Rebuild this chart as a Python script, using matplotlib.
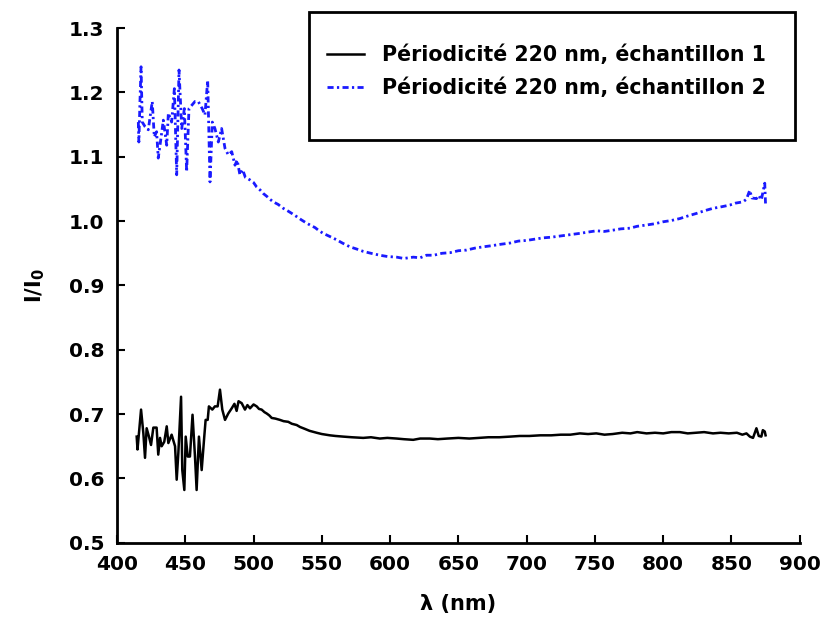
import matplotlib
matplotlib.use("Agg")
import matplotlib.pyplot as plt
from matplotlib.patches import Rectangle

plt.rcParams['font.family'] = ['DejaVu Sans']
plt.rcParams['font.weight'] = 'bold'
plt.rcParams['axes.labelweight'] = 'bold'

# échantillon 1 (courbe noire)
lam1 = [414.4, 415, 417.6, 419.3, 420.5, 421.7, 423.4, 424.9, 426.6, 429, 430.2, 431.5, 432.7,
        434.6, 436.4, 437.6, 440, 442.5, 443.7, 444.9, 446.9, 447.8, 449.3, 450.3, 451.8, 453.4,
        455.3, 457.1, 458.3, 460, 462, 463.9, 464.9, 466.4, 467.3, 469.8, 471.7, 473.7, 475.4,
        477.1, 479.1, 481.5, 484, 486, 487.6, 489, 491.3, 493.7, 495.5, 497.4, 500, 502.3, 504,
        505.9, 508, 509.6, 511.5, 513.3, 516, 519.3, 522, 525.4, 528, 531.6, 534, 537.6, 541,
        546.2, 550, 555.9, 560, 565.7, 572, 580.3, 586, 592.5, 598, 604.8, 610, 616.9, 622, 629.1,
        635, 642, 650, 658, 665, 672, 680, 688, 695, 702, 710, 718, 725, 732, 739, 745, 751, 757,
        763, 770, 776, 781, 787.8, 794, 800, 806, 812.2, 818, 824, 830, 836.5, 842, 848, 854, 858,
        861, 863.5, 865.8, 868.3, 870, 871.9, 873, 874.4, 875]
ech1 = [0.665, 0.645, 0.707, 0.670, 0.632, 0.678, 0.665, 0.652, 0.679, 0.679, 0.637, 0.663, 0.650,
        0.657, 0.681, 0.655, 0.668, 0.650, 0.598, 0.639, 0.727, 0.613, 0.582, 0.665, 0.634, 0.634,
        0.699, 0.634, 0.582, 0.665, 0.613, 0.665, 0.691, 0.691, 0.712, 0.707, 0.712, 0.712, 0.738,
        0.707, 0.691, 0.701, 0.709, 0.716, 0.705, 0.720, 0.717, 0.707, 0.714, 0.709, 0.715, 0.712, 0.708,
        0.707, 0.703, 0.701, 0.698, 0.694, 0.693, 0.691, 0.689, 0.688, 0.685, 0.683, 0.680, 0.677, 0.674,
        0.671, 0.669, 0.667, 0.666, 0.665, 0.664, 0.663, 0.664, 0.662, 0.663, 0.662, 0.661, 0.660, 0.662, 0.662,
        0.661, 0.662, 0.663, 0.662, 0.663, 0.664, 0.664, 0.665, 0.666, 0.666, 0.667, 0.667, 0.668, 0.668,
        0.670, 0.669, 0.670, 0.668, 0.669, 0.671, 0.670, 0.672, 0.670, 0.671, 0.670, 0.672, 0.672, 0.670,
        0.671, 0.672, 0.670, 0.671, 0.670, 0.671, 0.668, 0.670, 0.665, 0.663, 0.678, 0.666, 0.665, 0.675,
        0.673, 0.667]

# échantillon 2 (courbe bleue)
lam2 = [415.6, 416, 416.8, 417.6, 418.5, 420.5, 422.9, 425.8, 427.3, 429, 430.2, 432.2, 433.9,
        436.4, 437.6, 440, 442, 443.7, 445.4, 447.4, 449.3, 451, 452.7, 454.7, 457.1, 459.5, 462.4,
        464.4, 466.4, 468.1, 469.8, 471.7, 474.2, 476.6, 479.1, 481.5, 484, 486.4, 488, 490, 492,
        494, 497.4, 500, 502.3, 505, 507.1, 510, 512, 514.4, 518, 521.7, 525, 528, 531.6, 535, 538,
        541.3, 545, 548, 551, 555, 558, 560.8, 565, 570.6, 575, 580.3, 586, 592.5, 598, 604.8, 610,
        617, 622, 626.7, 632, 638, 644, 650, 656, 662, 668, 675, 681, 688, 694, 700, 706, 712, 718,
        725, 732, 739, 745, 751.2, 757, 763.3, 769, 775.6, 781, 787.8, 794, 800, 806, 812.2, 818,
        824.4, 830, 836.6, 842, 848.8, 853, 858.5, 861, 863.4, 865, 868.3, 870, 871.9, 874.4, 875]
ech2 = [1.154, 1.123, 1.186, 1.240, 1.154, 1.147, 1.142, 1.186, 1.131, 1.139, 1.098, 1.129, 1.157,
        1.118, 1.168, 1.154, 1.206, 1.072, 1.235, 1.144, 1.175, 1.077, 1.175, 1.180, 1.186, 1.186, 1.175,
        1.165, 1.219, 1.061, 1.154, 1.144, 1.123, 1.144, 1.113, 1.103, 1.108, 1.087, 1.095, 1.072, 1.080,
        1.068, 1.064, 1.060, 1.053, 1.048, 1.043, 1.038, 1.034, 1.030, 1.026, 1.020, 1.016, 1.012, 1.007,
        1.002, 0.998, 0.994, 0.990, 0.985, 0.981, 0.977, 0.974, 0.971, 0.966, 0.960, 0.957, 0.953, 0.950,
        0.947, 0.945, 0.944, 0.942, 0.944, 0.943, 0.947, 0.947, 0.950, 0.951, 0.954, 0.955, 0.958, 0.960,
        0.962, 0.964, 0.966, 0.969, 0.970, 0.972, 0.974, 0.975, 0.977, 0.979, 0.981, 0.983, 0.985, 0.984,
        0.986, 0.988, 0.989, 0.992, 0.994, 0.996, 0.999, 1.001, 1.004, 1.008, 1.012, 1.016, 1.020, 1.022,
        1.025, 1.028, 1.030, 1.034, 1.048, 1.036, 1.035, 1.040, 1.033, 1.059, 1.025]

xticks = [400, 450, 500, 550, 600, 650, 700, 750, 800, 850, 900]
yticks = [0.5, 0.6, 0.7, 0.8, 0.9, 1.0, 1.1, 1.2, 1.3]

fig = plt.figure(figsize=(8.27, 6.26), dpi=100)
ax = fig.add_axes([0.1415, 0.133, 0.8255, 0.822])

ax.plot(lam1, ech1, color='black', lw=1.8, label='Périodicité 220 nm, échantillon 1')
ax.plot(lam2, ech2, color='#1a1aff', lw=2.0, ls=(0, (2.2, 1.2, 0.8, 1.2)),
        label='Périodicité 220 nm, échantillon 2')

ax.set_xlim(400, 900)
ax.set_ylim(0.5, 1.3)
ax.set_xticks(xticks)
ax.set_yticks(yticks)
ax.set_yticklabels(['%.1f' % v for v in yticks])
ax.tick_params(direction='in', length=6, width=1.5, labelsize=14.5, pad=9)
for s in ['top', 'right']:
    ax.spines[s].set_visible(False)
for s in ['left', 'bottom']:
    ax.spines[s].set_linewidth(2)

ax.set_xlabel('λ (nm)', fontsize=15, labelpad=14)
ax.set_ylabel(r'$\mathbf{I/I_0}$', fontsize=15, labelpad=16)

# légende sans cadre, cadre dessiné à part
leg = ax.legend(loc='upper left', bbox_to_anchor=(327 / 827, 1 - 45 / 626), bbox_transform=fig.transFigure,
                fontsize=14.8, frameon=False, borderpad=0, labelspacing=0.6,
                handlelength=1.8, handletextpad=0.9, borderaxespad=0)
fig.patches.append(Rectangle((309 / 827, 1 - 140 / 626), 486 / 827, 128 / 626, transform=fig.transFigure,
                             fill=False, lw=2, ec='black', zorder=5))

fig.savefig('out.png', dpi=100)
